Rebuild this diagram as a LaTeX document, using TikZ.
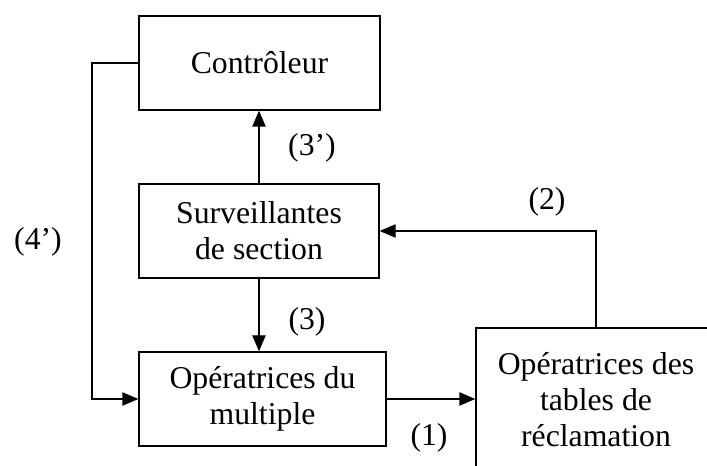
\documentclass[tikz,border=0pt]{standalone}
\usepackage{fontspec}
\setmainfont{Liberation Serif}
\usepackage{tikz}
\usetikzlibrary{arrows.meta,positioning}

\tikzset{
  block/.style={draw, line width=1pt, align=center, inner sep=0pt},
  flow/.style={line width=1pt, -{Triangle[length=12pt,width=10pt]}},
  tag/.style={inner sep=0pt}
}

\begin{document}
\begin{tikzpicture}[x=0.75pt,y=0.75pt,yscale=-1,
  every node/.style={font=\fontsize{23.8}{27}\selectfont}]
%set diagram to the size of the original, the right box runs off the edge
\clip (0,0) rectangle (707,466);

%Shape: Rectangle [ctrl]
\node [block, minimum width=180.75pt, minimum height=70.5pt] (ctrl) at (259.5,63) {Contrôleur};
%Shape: Rectangle [surv]
\node [block, minimum width=180pt, minimum height=70.5pt] (surv) at (259,231) {Surveillantes\\de section};
%Shape: Rectangle [mult]
\node [block, minimum width=185.25pt, minimum height=70.5pt] (mult) at (262.5,399) {Opératrices du\\multiple};
%Shape: Rectangle [tables]
\node [block, minimum width=180pt, minimum height=108pt] (tables) at (596,400) {Opératrices des\\tables de\\réclamation};

%Straight Lines [left loop]
\coordinate (loop) at (92,231);
\draw [flow] (ctrl.west) -| (loop) |- (mult.west);
%Straight Lines [up]
\draw [flow] (surv.north) -- (surv.north |- ctrl.south);
%Straight Lines [down]
\draw [flow] (surv.south) -- (surv.south |- mult.north);
%Straight Lines [right]
\draw [flow] (mult.east) -- (mult.east -| tables.west);
%Straight Lines [back]
\draw [flow] (tables.north) |- (surv.east);

% Text Node
\node [tag] (l4) at (38,242) {(4’)};
% Text Node
\node [tag] (l3p) at (312,148) {(3’)};
% Text Node
\node [tag] (l3) at (307,322) {(3)};
% Text Node
\node [tag] (l1) at (429,438) {(1)};
% Text Node
\node [tag] (l2) at (547,202) {(2)};

\end{tikzpicture}
\end{document}
